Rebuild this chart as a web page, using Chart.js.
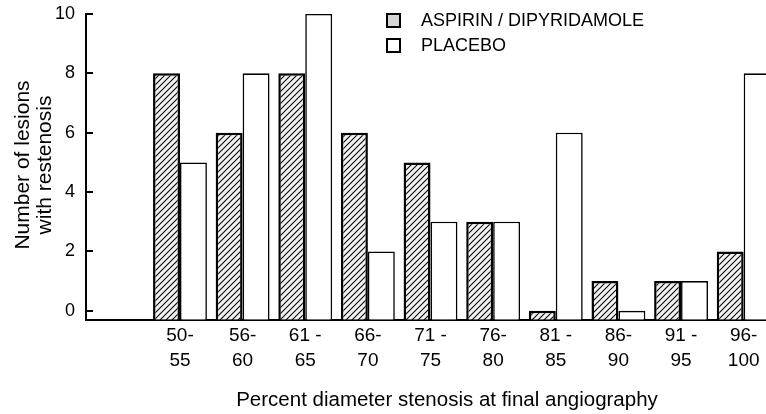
<!DOCTYPE html>
<html>
<head>
<meta charset="utf-8">
<script src="https://cdn.jsdelivr.net/npm/chart.js@4"></script>
<style>
html, body { margin: 0; padding: 0; overflow: hidden; background: #fff; }
canvas { display: block; }
</style>
</head>
<body>
<canvas id="restenosisChart" width="775" height="414"></canvas>
<script>
// first slot is left empty on purpose, like the original figure
const stenosisRanges = [['', ''], ['50-', '55'], ['56-', '60'], ['61 -', '65'], ['66-', '70'], ['71 -', '75'],
    ['76-', '80'], ['81 -', '85'], ['86-', '90'], ['91 -', '95'], ['96-', '100']];
const aspirinCounts = [null, 8, 6, 8, 6, 5, 3, 0, 1, 1, 2];
const placeboCounts = [null, 5, 8, 10, 2, 3, 3, 6, 0, 1, 8];
const yTickValues = [0, 2, 4, 6, 8, 10];
const seriesNames = ['ASPIRIN / DIPYRIDAMOLE', 'PLACEBO'];
const xAxisTitle = 'Percent diameter stenosis at final angiography';
const yAxisTitle = ['Number of lesions', 'with restenosis'];

const FONT = '"Liberation Sans", Arial, Helvetica, sans-serif';

function make_hatch() {
    const tile = document.createElement('canvas');
    tile.width = 6;
    tile.height = 6;
    const t = tile.getContext('2d');
    t.fillStyle = '#f2f2f2';
    t.fillRect(0, 0, 6, 6);
    t.strokeStyle = '#111';
    t.lineWidth = 1.2;
    t.beginPath();
    t.moveTo(0, 6); t.lineTo(6, 0);
    t.moveTo(-3, 3); t.lineTo(3, -3);
    t.moveTo(3, 9); t.lineTo(9, 3);
    t.stroke();
    return t.createPattern(tile, 'repeat');
}

const hatch = make_hatch();

// legend, axis titles and the inward tick marks are placed by hand to follow the printed figure
const figureText = {
    id: 'figureText',
    afterDraw(chart) {
        const ctx = chart.ctx;
        const yScale = chart.scales.y;
        const left = chart.chartArea.left;
        ctx.save();
        ctx.fillStyle = '#000';
        ctx.strokeStyle = '#000';

        // inward ticks on the y axis
        ctx.lineWidth = 2;
        ctx.beginPath();
        yTickValues.forEach(v => {
            const py = Math.round(yScale.getPixelForValue(v));
            ctx.moveTo(left - 1, py);
            ctx.lineTo(left + 7, py);
        });
        ctx.stroke();

        // legend
        ctx.fillStyle = '#d6d6d6';
        ctx.fillRect(387, 14, 13, 13);
        ctx.strokeRect(387, 14, 13, 13);
        ctx.fillStyle = '#fff';
        ctx.fillRect(387, 39, 13, 13);
        ctx.strokeRect(387, 39, 13, 13);
        ctx.fillStyle = '#000';
        ctx.font = '18px ' + FONT;
        ctx.textAlign = 'left';
        ctx.textBaseline = 'middle';
        ctx.fillText(seriesNames[0], 421, 21);
        ctx.fillText(seriesNames[1], 421, 46);

        // x title
        ctx.font = '20.5px ' + FONT;
        ctx.textAlign = 'center';
        ctx.fillText(xAxisTitle, 447, 400);

        // y title
        ctx.font = '21px ' + FONT;
        ctx.translate(23, 165);
        ctx.rotate(-Math.PI / 2);
        ctx.fillText(yAxisTitle[0], 0, 0);
        ctx.fillText(yAxisTitle[1], 0, 22);
        ctx.restore();
    }
};

const ctx = document.getElementById('restenosisChart').getContext('2d');
const chart = new Chart(ctx, {
    type: 'bar',
    data: {
        labels: stenosisRanges,
        datasets: [{
            label: seriesNames[0],
            data: aspirinCounts,
            backgroundColor: hatch,
            borderColor: '#000',
            borderWidth: 2.5,
            base: -0.3,
        },
        {
            label: seriesNames[1],
            data: placeboCounts,
            backgroundColor: '#fff',
            borderColor: '#000',
            borderWidth: 1.6,
            base: -0.3,
        }]
    },
    options: {
        responsive: false,
        animation: false,
        layout: {
            padding: { left: 52, right: 0, top: 14, bottom: 37 }
        },
        datasets: {
            bar: {
                categoryPercentage: 0.86,
                barPercentage: 1.0,
            }
        },
        plugins: {
            legend: { display: false },
            tooltip: { enabled: false },
        },
        scales: {
            x: {
                grid: { display: false, drawTicks: false },
                border: { display: true, color: '#000', width: 2 },
                ticks: {
                    color: '#000',
                    padding: 3,
                    maxRotation: 0,
                    autoSkip: false,
                    font: { family: FONT, size: 19, lineHeight: 1.35 },
                },
            },
            y: {
                min: -0.3,
                max: 10,
                afterBuildTicks: function (scale) {
                    scale.ticks = yTickValues.map(v => ({ value: v }));
                },
                grid: {
                    drawOnChartArea: false,
                    drawTicks: true,
                    tickLength: 8,
                    color: 'rgba(0,0,0,0)',
                },
                border: { display: true, color: '#000', width: 2 },
                ticks: {
                    color: '#000',
                    padding: 3,
                    font: { family: FONT, size: 18 },
                },
            }
        }
    },
    plugins: [figureText]
});
</script>
</body>
</html>
